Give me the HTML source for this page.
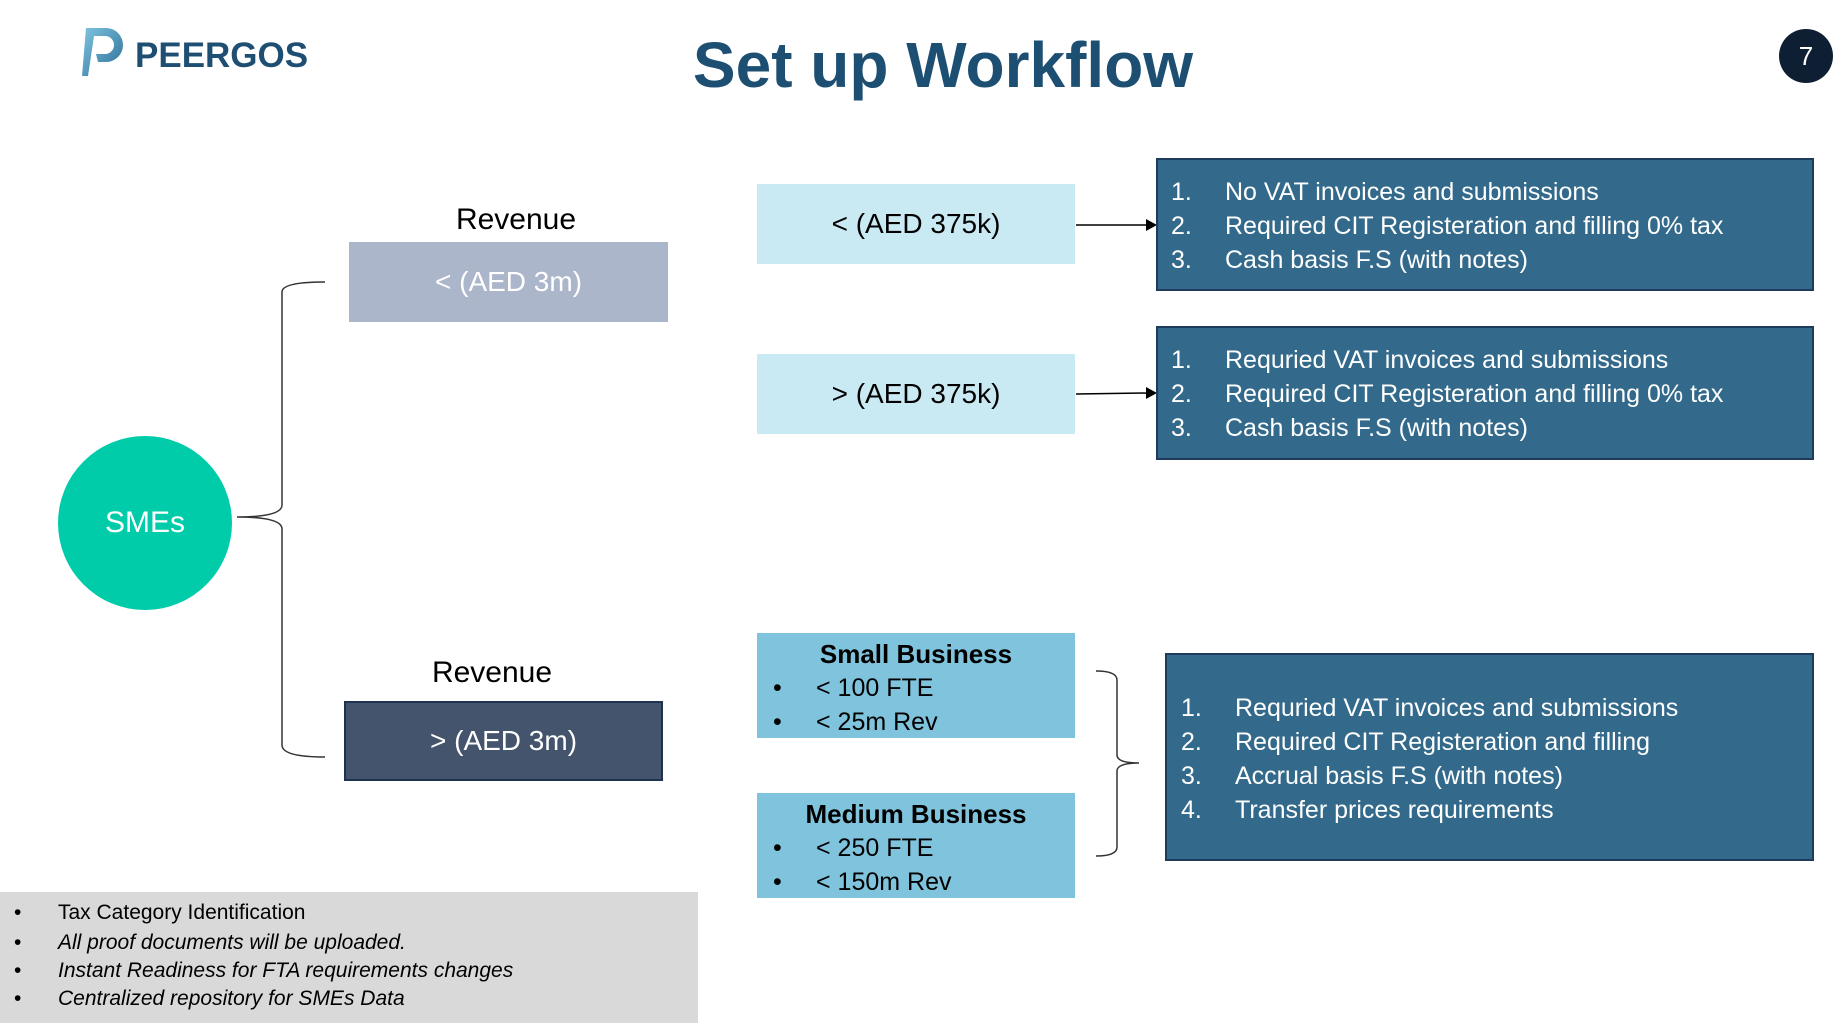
<!DOCTYPE html>
<html><head><meta charset="utf-8"><style>
*{margin:0;padding:0;box-sizing:border-box}
body{width:1834px;height:1028px;background:#fff;position:relative;overflow:hidden;font-family:"Liberation Sans",sans-serif}
.a{position:absolute}
.c{display:flex;align-items:center;justify-content:center}
.t{position:absolute;white-space:nowrap;line-height:1}
</style></head><body>
<svg class="a" style="left:82px;top:24px" width="46" height="56" viewBox="0 0 46 56">
<defs><linearGradient id="g" x1="0" y1="0" x2="1" y2="1"><stop offset="0" stop-color="#7fc4e0"/><stop offset="1" stop-color="#2a6f96"/></linearGradient></defs>
<path d="M4 4 H24 A17 17 0 0 1 24 38 H16 L14 30 H23 A9 9 0 0 0 23 12 H12 L6 52 H0 Z" fill="url(#g)"/>
</svg>
<div class="t" style="left:135px;top:38px;font-size:35px;color:#1e4f73;font-weight:bold">PEERGOS</div>
<div class="t" style="left:0;width:1886px;text-align:center;top:33px;font-size:64px;font-weight:bold;color:#1d4f73">Set up Workflow</div>
<div class="a c" style="left:1779px;top:29px;width:54px;height:54px;border-radius:50%;background:#0f1f33;color:#fff;font-size:26px">7</div>

<div class="a c" style="left:58px;top:436px;width:174px;height:174px;border-radius:50%;background:#00ccaa;color:#fff;font-size:30px">SMEs</div>
<svg class="a" style="left:0;top:0" width="1834" height="1028">
<path d="M325 282 Q282 282 282 292 V505 Q282 517 237 517 Q282 517 282 529 V745 Q282 757 325 757" fill="none" stroke="#333" stroke-width="1.5"/>
<path d="M1096 671 Q1117 671 1117 680 V755 Q1117 763 1139 763 Q1117 763 1117 771 V847 Q1117 856 1096 856" fill="none" stroke="#333" stroke-width="1.5"/>
<line x1="1076" y1="225" x2="1148" y2="225" stroke="#000" stroke-width="1.5"/>
<polygon points="1146,219 1157,225 1146,231" fill="#000"/>
<line x1="1076" y1="394" x2="1148" y2="393" stroke="#000" stroke-width="1.5"/>
<polygon points="1146,387 1157,393 1146,399" fill="#000"/>
</svg>

<div class="t" style="left:416px;width:200px;text-align:center;top:205px;font-size:30px;color:#000">Revenue</div>
<div class="a c" style="left:349px;top:242px;width:319px;height:80px;background:#abb6ca;color:#fff;font-size:28px">&lt; (AED 3m)</div>
<div class="t" style="left:392px;width:200px;text-align:center;top:658px;font-size:30px;color:#000">Revenue</div>
<div class="a c" style="left:344px;top:701px;width:319px;height:80px;background:#44546c;border:2px solid #1f3350;color:#fff;font-size:28px">&gt; (AED 3m)</div>

<div class="a c" style="left:757px;top:184px;width:318px;height:80px;background:#c9e9f3;color:#000;font-size:28px">&lt; (AED 375k)</div>
<div class="a c" style="left:757px;top:354px;width:318px;height:80px;background:#c9e9f3;color:#000;font-size:28px">&gt; (AED 375k)</div>

<div class="a" style="left:1156px;top:158px;width:658px;height:133px;background:#336a8b;border:2px solid #1f3b5c;color:#fff;font-size:25px">
<div class="t" style="left:13px;top:20px">1.</div><div class="t" style="left:67px;top:20px">No VAT invoices and submissions</div>
<div class="t" style="left:13px;top:54px">2.</div><div class="t" style="left:67px;top:54px">Required CIT Registeration and filling 0% tax</div>
<div class="t" style="left:13px;top:88px">3.</div><div class="t" style="left:67px;top:88px">Cash basis F.S (with notes)</div>
</div>
<div class="a" style="left:1156px;top:326px;width:658px;height:134px;background:#336a8b;border:2px solid #1f3b5c;color:#fff;font-size:25px">
<div class="t" style="left:13px;top:20px">1.</div><div class="t" style="left:67px;top:20px">Requried VAT invoices and submissions</div>
<div class="t" style="left:13px;top:54px">2.</div><div class="t" style="left:67px;top:54px">Required CIT Registeration and filling 0% tax</div>
<div class="t" style="left:13px;top:88px">3.</div><div class="t" style="left:67px;top:88px">Cash basis F.S (with notes)</div>
</div>

<div class="a" style="left:757px;top:633px;width:318px;height:105px;background:#80c3dc;color:#000;font-size:25px">
<div class="t" style="left:0;width:318px;text-align:center;top:8px;font-weight:bold;font-size:26px">Small Business</div>
<div class="t" style="left:16px;top:43px">•</div><div class="t" style="left:59px;top:43px">&lt; 100 FTE</div>
<div class="t" style="left:16px;top:77px">•</div><div class="t" style="left:59px;top:77px">&lt; 25m Rev</div>
</div>
<div class="a" style="left:757px;top:793px;width:318px;height:105px;background:#80c3dc;color:#000;font-size:25px">
<div class="t" style="left:0;width:318px;text-align:center;top:8px;font-weight:bold;font-size:26px">Medium Business</div>
<div class="t" style="left:16px;top:43px">•</div><div class="t" style="left:59px;top:43px">&lt; 250 FTE</div>
<div class="t" style="left:16px;top:77px">•</div><div class="t" style="left:59px;top:77px">&lt; 150m Rev</div>
</div>

<div class="a" style="left:1165px;top:653px;width:649px;height:208px;background:#336a8b;border:2px solid #1f3b5c;color:#fff;font-size:25px">
<div class="t" style="left:14px;top:41px">1.</div><div class="t" style="left:68px;top:41px">Requried VAT invoices and submissions</div>
<div class="t" style="left:14px;top:75px">2.</div><div class="t" style="left:68px;top:75px">Required CIT Registeration and filling</div>
<div class="t" style="left:14px;top:109px">3.</div><div class="t" style="left:68px;top:109px">Accrual basis F.S (with notes)</div>
<div class="t" style="left:14px;top:143px">4.</div><div class="t" style="left:68px;top:143px">Transfer prices requirements</div>
</div>

<div class="a" style="left:0;top:892px;width:698px;height:131px;background:#d9d9d9;color:#000;font-size:21px">
<div class="t" style="left:14px;top:10px">•</div><div class="t" style="left:58px;top:10px">Tax Category Identification</div>
<div class="t" style="left:14px;top:40px">•</div><div class="t" style="left:58px;top:40px;font-style:italic">All proof documents will be uploaded.</div>
<div class="t" style="left:14px;top:68px">•</div><div class="t" style="left:58px;top:68px;font-style:italic">Instant Readiness for FTA requirements changes</div>
<div class="t" style="left:14px;top:96px">•</div><div class="t" style="left:58px;top:96px;font-style:italic">Centralized repository for SMEs Data</div>
</div>
</body></html>
